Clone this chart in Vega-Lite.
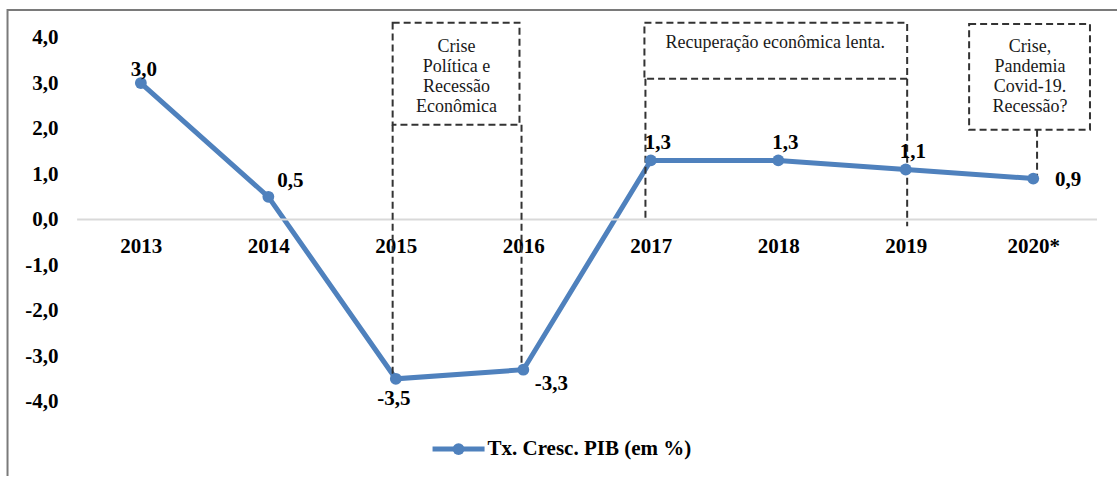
{
  "$schema": "https://vega.github.io/schema/vega-lite/v6.json",
  "width": 1118,
  "height": 477,
  "padding": 0,
  "autosize": {"type": "fit", "contains": "padding"},
  "background": "white",
  "config": {"view": {"stroke": null}},
  "data": {
    "values": [
      {"ano": "2013", "i": 0, "pib": 3.0, "rotulo": "3,0"},
      {"ano": "2014", "i": 1, "pib": 0.5, "rotulo": "0,5"},
      {"ano": "2015", "i": 2, "pib": -3.5, "rotulo": "-3,5"},
      {"ano": "2016", "i": 3, "pib": -3.3, "rotulo": "-3,3"},
      {"ano": "2017", "i": 4, "pib": 1.3, "rotulo": "1,3"},
      {"ano": "2018", "i": 5, "pib": 1.3, "rotulo": "1,3"},
      {"ano": "2019", "i": 6, "pib": 1.1, "rotulo": "1,1"},
      {"ano": "2020*", "i": 7, "pib": 0.9, "rotulo": "0,9"}
    ]
  },
  "layer": [
    {
      "mark": {"type": "line", "color": "#4f81bd", "strokeWidth": 5},
      "encoding": {
        "x": {
          "field": "i",
          "type": "quantitative",
          "scale": {"domain": [-1.105, 7.657], "zero": false, "nice": false},
          "axis": {
            "orient": "bottom",
            "offset": -257,
            "values": [0, 1, 2, 3, 4, 5, 6, 7],
            "labelExpr": "['2013','2014','2015','2016','2017','2018','2019','2020*'][datum.value]",
            "domain": false,
            "ticks": false,
            "tickSize": 0,
            "grid": false,
            "title": null,
            "labelPadding": 16,
            "labelFont": "Liberation Serif",
            "labelFontWeight": "bold",
            "labelFontSize": 21,
            "labelColor": "#000000",
            "labelFlush": false,
            "labelOverlap": false
          }
        },
        "y": {
          "field": "pib",
          "type": "quantitative",
          "scale": {"domain": [-5.636, 4.825], "zero": false, "nice": false},
          "axis": {
            "orient": "left",
            "offset": -58,
            "values": [-4, -3, -2, -1, 0, 1, 2, 3, 4],
            "labelExpr": "datum.value + ',0'",
            "domain": false,
            "ticks": false,
            "tickSize": 0,
            "grid": false,
            "title": null,
            "labelPadding": 0,
            "labelFont": "Liberation Serif",
            "labelFontWeight": "bold",
            "labelFontSize": 21,
            "labelColor": "#000000",
            "labelOverlap": false,
            "labelFlush": false
          }
        }
      }
    },
    {
      "data": {"values": [{}]},
      "mark": {"type": "rule", "color": "#7a7a7a", "strokeWidth": 2},
      "encoding": {
        "x": {"datum": -1.046, "type": "quantitative"},
        "x2": {"datum": 7.657},
        "y": {"datum": 4.605, "type": "quantitative"}
      }
    },
    {
      "data": {"values": [{}]},
      "mark": {"type": "rule", "color": "#7a7a7a", "strokeWidth": 2},
      "encoding": {
        "x": {"datum": -1.046, "type": "quantitative"},
        "y": {"datum": 4.627, "type": "quantitative"},
        "y2": {"datum": -5.636}
      }
    },
    {
      "data": {"values": [{}]},
      "mark": {"type": "rule", "color": "#d9d9d9", "strokeWidth": 2},
      "encoding": {
        "x": {"datum": -0.5, "type": "quantitative"},
        "x2": {"datum": 7.5},
        "y": {"datum": 0, "type": "quantitative"}
      }
    },
    {
      "data": {"values": [{}]},
      "mark": {"type": "rect", "fill": null, "fillOpacity": 0, "stroke": "#333333", "strokeWidth": 2, "strokeDash": [7, 4]},
      "encoding": {
        "x": {"datum": 1.975, "type": "quantitative"},
        "x2": {"datum": 2.97},
        "y": {"datum": 4.327, "type": "quantitative"},
        "y2": {"datum": 2.083}
      }
    },
    {
      "data": {"values": [{}]},
      "mark": {"type": "rect", "fill": null, "fillOpacity": 0, "stroke": "#333333", "strokeWidth": 2, "strokeDash": [7, 4]},
      "encoding": {
        "x": {"datum": 3.95, "type": "quantitative"},
        "x2": {"datum": 6.011},
        "y": {"datum": 4.327, "type": "quantitative"},
        "y2": {"datum": 3.092}
      }
    },
    {
      "data": {"values": [{}]},
      "mark": {"type": "rect", "fill": null, "fillOpacity": 0, "stroke": "#333333", "strokeWidth": 2, "strokeDash": [7, 4]},
      "encoding": {
        "x": {"datum": 6.497, "type": "quantitative"},
        "x2": {"datum": 7.445},
        "y": {"datum": 4.298, "type": "quantitative"},
        "y2": {"datum": 1.974}
      }
    },
    {
      "data": {"values": [{}]},
      "mark": {"type": "rule", "color": "#333333", "strokeWidth": 2, "strokeDash": [7, 4]},
      "encoding": {
        "x": {"datum": 1.975, "type": "quantitative"},
        "y": {"datum": 2.083, "type": "quantitative"},
        "y2": {"datum": -3.5}
      }
    },
    {
      "data": {"values": [{}]},
      "mark": {"type": "rule", "color": "#333333", "strokeWidth": 2, "strokeDash": [7, 4]},
      "encoding": {
        "x": {"datum": 2.986, "type": "quantitative"},
        "y": {"datum": 2.083, "type": "quantitative"},
        "y2": {"datum": -3.42}
      }
    },
    {
      "data": {"values": [{}]},
      "mark": {"type": "rule", "color": "#333333", "strokeWidth": 2, "strokeDash": [7, 4]},
      "encoding": {
        "x": {"datum": 3.958, "type": "quantitative"},
        "y": {"datum": 3.092, "type": "quantitative"},
        "y2": {"datum": -0.04}
      }
    },
    {
      "data": {"values": [{}]},
      "mark": {"type": "rule", "color": "#333333", "strokeWidth": 2, "strokeDash": [7, 4]},
      "encoding": {
        "x": {"datum": 6.011, "type": "quantitative"},
        "y": {"datum": 3.092, "type": "quantitative"},
        "y2": {"datum": -0.15}
      }
    },
    {
      "data": {"values": [{}]},
      "mark": {"type": "rule", "color": "#333333", "strokeWidth": 2, "strokeDash": [7, 4]},
      "encoding": {
        "x": {"datum": 7.03, "type": "quantitative"},
        "y": {"datum": 1.974, "type": "quantitative"},
        "y2": {"datum": 0.94}
      }
    },
    {
      "data": {"values": [{}]},
      "mark": {"type": "text", "text": ["Crise", "Política e", "Recessão", "Econômica"], "font": "Liberation Serif, DejaVu Serif, serif", "fontWeight": "normal", "fontSize": 18, "lineHeight": 20, "align": "center", "baseline": "alphabetic", "color": "#1a1a1a"},
      "encoding": {
        "x": {"datum": 2.476, "type": "quantitative"},
        "y": {"datum": 3.691, "type": "quantitative"}
      }
    },
    {
      "data": {"values": [{}]},
      "mark": {"type": "text", "text": "Recuperação econômica  lenta.", "font": "Liberation Serif, DejaVu Serif, serif", "fontWeight": "normal", "fontSize": 18, "align": "center", "baseline": "alphabetic", "color": "#1a1a1a"},
      "encoding": {
        "x": {"datum": 4.976, "type": "quantitative"},
        "y": {"datum": 3.765, "type": "quantitative"}
      }
    },
    {
      "data": {"values": [{}]},
      "mark": {"type": "text", "text": ["Crise,", "Pandemia", "Covid-19.", "Recessão?"], "font": "Liberation Serif, DejaVu Serif, serif", "fontWeight": "normal", "fontSize": 18, "lineHeight": 20, "align": "center", "baseline": "alphabetic", "color": "#1a1a1a"},
      "encoding": {
        "x": {"datum": 6.975, "type": "quantitative"},
        "y": {"datum": 3.691, "type": "quantitative"}
      }
    },
    {
      "mark": {"type": "point", "filled": true, "color": "#4f81bd", "size": 140, "opacity": 1},
      "encoding": {
        "x": {"field": "i", "type": "quantitative"},
        "y": {"field": "pib", "type": "quantitative"}
      }
    },
    {
      "transform": [{"filter": "datum.ano == '2013'"}],
      "mark": {"type": "text", "font": "Liberation Serif", "fontWeight": "bold", "fontSize": 21, "color": "#000", "align": "center", "baseline": "middle", "dx": 3, "dy": -13},
      "encoding": {
        "x": {"field": "i", "type": "quantitative"},
        "y": {"field": "pib", "type": "quantitative"},
        "text": {"field": "rotulo"}
      }
    },
    {
      "transform": [{"filter": "datum.ano == '2014'"}],
      "mark": {"type": "text", "font": "Liberation Serif", "fontWeight": "bold", "fontSize": 21, "color": "#000", "align": "center", "baseline": "middle", "dx": 22, "dy": -16},
      "encoding": {
        "x": {"field": "i", "type": "quantitative"},
        "y": {"field": "pib", "type": "quantitative"},
        "text": {"field": "rotulo"}
      }
    },
    {
      "transform": [{"filter": "datum.ano == '2015'"}],
      "mark": {"type": "text", "font": "Liberation Serif", "fontWeight": "bold", "fontSize": 21, "color": "#000", "align": "center", "baseline": "middle", "dx": -2, "dy": 20},
      "encoding": {
        "x": {"field": "i", "type": "quantitative"},
        "y": {"field": "pib", "type": "quantitative"},
        "text": {"field": "rotulo"}
      }
    },
    {
      "transform": [{"filter": "datum.ano == '2016'"}],
      "mark": {"type": "text", "font": "Liberation Serif", "fontWeight": "bold", "fontSize": 21, "color": "#000", "align": "center", "baseline": "middle", "dx": 28, "dy": 14},
      "encoding": {
        "x": {"field": "i", "type": "quantitative"},
        "y": {"field": "pib", "type": "quantitative"},
        "text": {"field": "rotulo"}
      }
    },
    {
      "transform": [{"filter": "datum.ano == '2017' || datum.ano == '2018' || datum.ano == '2019'"}],
      "mark": {"type": "text", "font": "Liberation Serif", "fontWeight": "bold", "fontSize": 21, "color": "#000", "align": "center", "baseline": "middle", "dx": 7, "dy": -17},
      "encoding": {
        "x": {"field": "i", "type": "quantitative"},
        "y": {"field": "pib", "type": "quantitative"},
        "text": {"field": "rotulo"}
      }
    },
    {
      "transform": [{"filter": "datum.ano == '2020*'"}],
      "mark": {"type": "text", "font": "Liberation Serif", "fontWeight": "bold", "fontSize": 21, "color": "#000", "align": "center", "baseline": "middle", "dx": 35, "dy": 1},
      "encoding": {
        "x": {"field": "i", "type": "quantitative"},
        "y": {"field": "pib", "type": "quantitative"},
        "text": {"field": "rotulo"}
      }
    },
    {
      "data": {"values": [{}]},
      "mark": {"type": "rule", "color": "#4f81bd", "strokeWidth": 5},
      "encoding": {
        "x": {"datum": 2.288, "type": "quantitative"},
        "x2": {"datum": 2.696},
        "y": {"datum": -5.044, "type": "quantitative"}
      }
    },
    {
      "data": {"values": [{}]},
      "mark": {"type": "point", "filled": true, "color": "#4f81bd", "size": 140, "opacity": 1},
      "encoding": {
        "x": {"datum": 2.492, "type": "quantitative"},
        "y": {"datum": -5.044, "type": "quantitative"}
      }
    },
    {
      "data": {"values": [{}]},
      "mark": {"type": "text", "text": "Tx. Cresc. PIB (em %)", "font": "Liberation Serif", "fontWeight": "bold", "fontSize": 21, "color": "#000", "align": "left", "baseline": "middle"},
      "encoding": {
        "x": {"datum": 2.719, "type": "quantitative"},
        "y": {"datum": -5.044, "type": "quantitative"}
      }
    }
  ]
}
